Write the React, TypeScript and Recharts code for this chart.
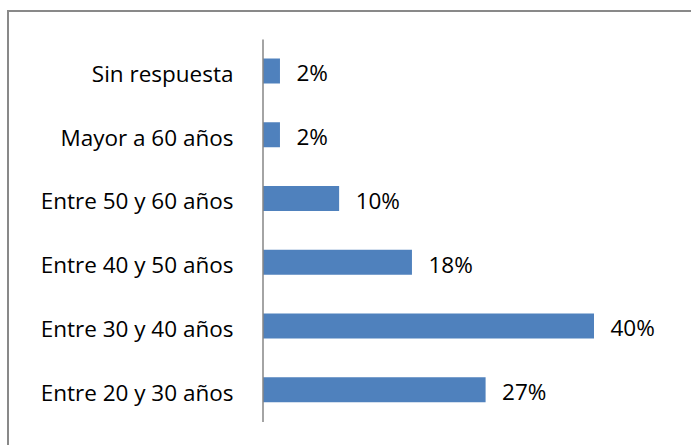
import React from "react";
import { Bar, BarChart, LabelList, XAxis, YAxis } from "recharts";

const categories = [
  "Sin respuesta",
  "Mayor a 60 años",
  "Entre 50 y 60 años",
  "Entre 40 y 50 años",
  "Entre 30 y 40 años",
  "Entre 20 y 30 años",
];
const shares = [2.05, 2.05, 9.2, 18, 40, 26.9];
const shareLabels = ["2%", "2%", "10%", "18%", "40%", "27%"];

const FONT = "'Open Sans', sans-serif";
const FONT_SIZE = 22.5;

const data = categories.map((name, i) => ({
  name,
  value: shares[i],
  label: shareLabels[i],
}));

const CategoryTick = (props: any) => {
  const { x, y, payload } = props;
  return (
    <text
      x={x}
      y={y + 10.5}
      textAnchor="end"
      fill="#000"
      fontFamily={FONT}
      fontSize={FONT_SIZE}
    >
      {payload.value}
    </text>
  );
};

const ValueLabel = (props: any) => {
  const { x, y, width, height, value } = props;
  return (
    <text
      x={x + width + 16.5}
      y={y + height / 2 + 10.4}
      textAnchor="start"
      fill="#000"
      fontFamily={FONT}
      fontSize={FONT_SIZE}
    >
      {value}
    </text>
  );
};

export default function App() {
  return (
    <div
      style={{
        position: "absolute",
        left: 0,
        top: 0,
        width: 691,
        height: 445,
        overflow: "hidden",
        background: "#fff",
      }}
    >
      <div
        style={{
          position: "absolute",
          left: 7,
          top: 10,
          width: 720,
          height: 480,
          borderLeft: "2px solid #898989",
          borderTop: "2px solid #898989",
        }}
      />
      <div style={{ position: "absolute", left: 0, top: 0 }}>
        <BarChart
          layout="vertical"
          width={691}
          height={445}
          data={data}
          margin={{ top: 39.5, right: 14.25, bottom: 23, left: 0 }}
        >
          <XAxis type="number" domain={[0, 50]} hide />
          <YAxis
            type="category"
            dataKey="name"
            width={263}
            axisLine={{ stroke: "#868686", strokeWidth: 1.5 }}
            tickLine={false}
            tickSize={6}
            tickMargin={23.5}
            tick={<CategoryTick />}
            interval={0}
          />
          <Bar
            dataKey="value"
            fill="#4F81BD"
            barSize={25}
            isAnimationActive={false}
          >
            <LabelList dataKey="label" content={<ValueLabel />} />
          </Bar>
        </BarChart>
      </div>
    </div>
  );
}
